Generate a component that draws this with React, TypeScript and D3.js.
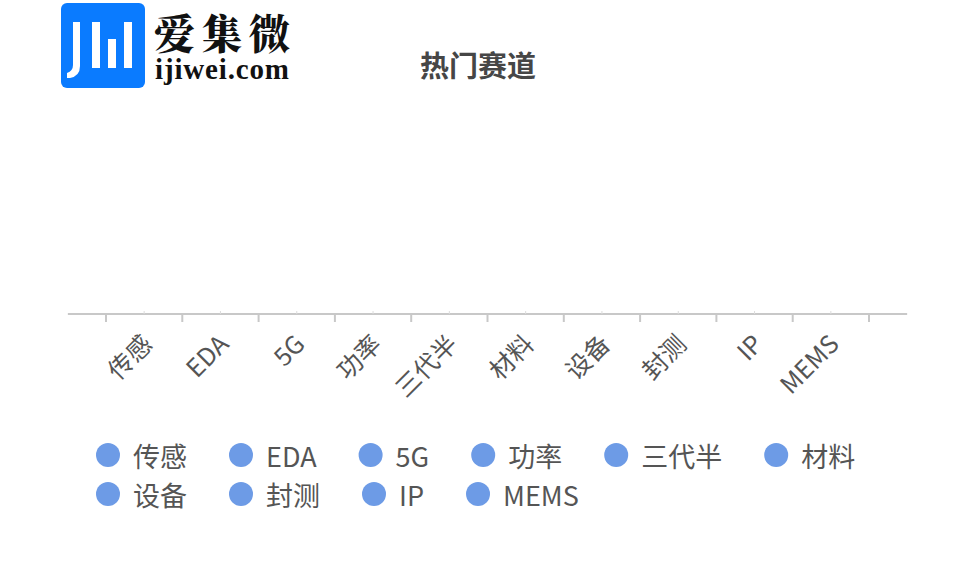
import React, { useEffect, useRef } from 'react';
import * as d3 from 'd3';

// hot tracks - every value reads as zero in the picture (no bars drawn)
const categories = ['传感', 'EDA', '5G', '功率', '三代半', '材料', '设备', '封测', 'IP', 'MEMS'];
const values = [0, 0, 0, 0, 0, 0, 0, 0, 0, 0];
const title = '热门赛道';

const W = 956;
const H = 572;
const FONT = '"Microsoft YaHei", "Noto Sans CJK SC", "Noto Sans", sans-serif';
const BLUE = '#6d9be6';

const App: React.FC = () => {
  const ref = useRef<SVGSVGElement>(null);

  useEffect(() => {
    const svg = d3.select(ref.current);
    svg.selectAll('*').remove();

    // logo
    const logo = svg.append('g');
    logo.append('rect')
      .attr('x', 61).attr('y', 3).attr('width', 84).attr('height', 85)
      .attr('rx', 6).attr('fill', '#0a7bff');
    logo.append('path')
      .attr('d', 'M73,22 H80 V66 Q80,76 70,78 L67,78 L67,73 Q73,71 73,65 Z')
      .attr('fill', '#fff');
    [[92, 22], [108, 39], [124, 22]].forEach(([x, y]) => {
      logo.append('rect').attr('x', x).attr('y', y).attr('width', 8).attr('height', 68 - y).attr('fill', '#fff');
    });
    logo.append('text')
      .attr('x', 154).attr('y', 49)
      .attr('font-family', '"Noto Serif CJK SC", "Noto Sans CJK SC", serif')
      .attr('font-weight', 900).attr('font-size', 41).attr('fill', '#111')
      .attr('textLength', 136)
      .text('爱集微');
    logo.append('text')
      .attr('x', 155).attr('y', 79)
      .attr('font-family', '"Liberation Serif", serif')
      .attr('font-weight', 700).attr('font-size', 29).attr('fill', '#111')
      .attr('textLength', 134)
      .text('ijiwei.com');

    // title
    svg.append('text')
      .attr('x', 478).attr('y', 64)
      .attr('text-anchor', 'middle').attr('dominant-baseline', 'central')
      .attr('font-family', FONT).attr('font-weight', 700).attr('font-size', 29)
      .attr('fill', '#464646')
      .text(title);

    // plot
    const top = 100;
    const baseY = 314;
    const x = d3.scaleBand<string>().domain(categories).range([106, 869]);
    const y = d3.scaleLinear().domain([0, 1]).range([baseY, top]);
    const half = x.bandwidth() / 2;

    svg.append('g').selectAll('rect')
      .data(values)
      .join('rect')
      .attr('x', (_, i) => x(categories[i])! + x.bandwidth() * 0.2)
      .attr('width', x.bandwidth() * 0.6)
      .attr('y', d => y(d))
      .attr('height', d => baseY - y(d))
      .attr('fill', BLUE);

    const axis = svg.append('g');
    axis.append('line')
      .attr('x1', 106 - half).attr('x2', 869 + half)
      .attr('y1', baseY).attr('y2', baseY)
      .attr('stroke', '#c8c8c8').attr('stroke-width', 2);
    const bounds = categories.map(c => x(c)!).concat([x.range()[1]]);
    axis.selectAll('line.major')
      .data(bounds)
      .join('line')
      .attr('class', 'major')
      .attr('x1', d => d).attr('x2', d => d)
      .attr('y1', baseY).attr('y2', baseY + 8)
      .attr('stroke', '#c8c8c8').attr('stroke-width', 2);
    axis.selectAll('line.minor')
      .data(categories)
      .join('line')
      .attr('class', 'minor')
      .attr('x1', d => x(d)! + half).attr('x2', d => x(d)! + half)
      .attr('y1', baseY).attr('y2', baseY - 3)
      .attr('stroke', '#dcdcdc').attr('stroke-width', 1);
    axis.selectAll('text')
      .data(categories)
      .join('text')
      .attr('transform', d => `translate(${x(d)! + half + 2},${baseY + 24}) rotate(-45)`)
      .attr('text-anchor', 'end')
      .attr('dominant-baseline', 'central')
      .attr('font-family', FONT).attr('font-size', 25).attr('fill', '#555')
      .text(d => d);

    // legend, flowing left to right and wrapping
    const legend = svg.append('g');
    let lx = 96;
    let ly = 455;
    categories.forEach(c => {
      const item = legend.append('g');
      item.append('circle').attr('cx', 12).attr('cy', 0).attr('r', 12).attr('fill', BLUE);
      const t = item.append('text')
        .attr('x', 37).attr('y', 0)
        .attr('dominant-baseline', 'central')
        .attr('font-family', FONT).attr('font-size', 27).attr('fill', '#555')
        .text(c);
      const w = (t.node() as SVGTextElement).getComputedTextLength();
      const adv = 37 + w + 42;
      if (lx + 37 + w > 880) {
        lx = 96;
        ly += 39;
      }
      item.attr('transform', `translate(${lx},${ly})`);
      lx += adv;
    });
  }, []);

  return (
    <svg ref={ref} width={W} height={H} style={{ display: 'block', position: 'absolute', left: 0, top: 0, background: '#fff' }} />
  );
};

export default App;
